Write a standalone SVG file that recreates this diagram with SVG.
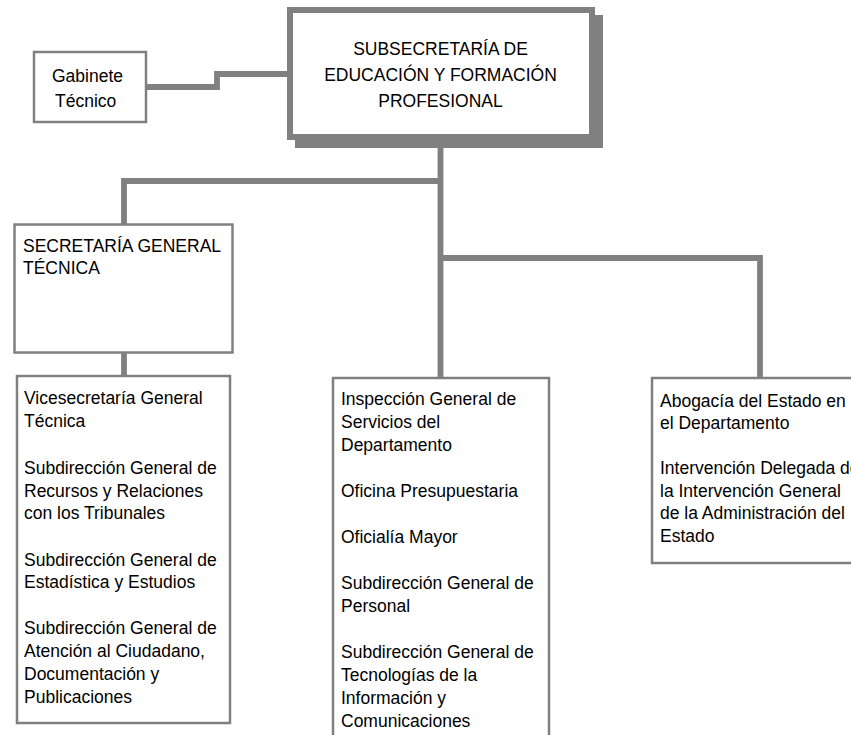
<svg xmlns="http://www.w3.org/2000/svg" width="851" height="735" viewBox="0 0 851 735">
<style>
text{font-family:"Liberation Sans",Arial,sans-serif;font-size:17.5px;fill:#000}
.box{fill:#fff;stroke:#808080;stroke-width:2.5}
.conn{fill:none;stroke:#808080;stroke-width:5.8;stroke-linejoin:miter}
.mid{text-anchor:middle}
</style>
<rect width="851" height="735" fill="#fff"/>
<g id="connectors">
<path class="conn" d="M146,87 H217 V74 H290"/>
<path class="conn" d="M440.5,140 V378"/>
<path class="conn" d="M124,226 V181 H440.5"/>
<path class="conn" d="M440.5,258 H760 V378"/>
<path class="conn" d="M124,352 V377"/>
</g>
<g id="subsecretaria">
<rect x="295" y="15" width="308" height="133" fill="#808080"/>
<rect x="290" y="10" width="302" height="127" fill="#fff" stroke="#808080" stroke-width="6"/>
<text class="mid" x="440.5" y="55">SUBSECRETARÍA DE</text>
<text class="mid" x="440.5" y="81">EDUCACIÓN Y FORMACIÓN</text>
<text class="mid" x="440.5" y="107">PROFESIONAL</text>
</g>
<g id="gabinete">
<rect class="box" x="34" y="52" width="112" height="70" stroke-width="2"/>
<text x="52" y="82">Gabinete</text>
<text x="55" y="107">Técnico</text>
</g>
<g id="sgt">
<rect class="box" x="14.5" y="224.5" width="218" height="128"/>
<text x="23" y="252">SECRETARÍA GENERAL</text>
<text x="23" y="274">TÉCNICA</text>
</g>
<g id="sgt-units">
<rect class="box" x="17" y="376" width="213" height="347"/>
<text x="24" y="404">Vicesecretaría General</text>
<text x="24" y="427">Técnica</text>
<text x="24" y="474">Subdirección General de</text>
<text x="24" y="497">Recursos y Relaciones</text>
<text x="24" y="519">con los Tribunales</text>
<text x="24" y="566">Subdirección General de</text>
<text x="24" y="588">Estadística y Estudios</text>
<text x="24" y="634">Subdirección General de</text>
<text x="24" y="657">Atención al Ciudadano,</text>
<text x="24" y="680">Documentación y</text>
<text x="24" y="703">Publicaciones</text>
</g>
<g id="middle-units">
<rect class="box" x="333" y="378" width="216" height="370"/>
<text x="341" y="405">Inspección General de</text>
<text x="341" y="428">Servicios del</text>
<text x="341" y="451">Departamento</text>
<text x="341" y="497">Oficina Presupuestaria</text>
<text x="341" y="543">Oficialía Mayor</text>
<text x="341" y="589">Subdirección General de</text>
<text x="341" y="612">Personal</text>
<text x="341" y="658">Subdirección General de</text>
<text x="341" y="681">Tecnologías de la</text>
<text x="341" y="704">Información y</text>
<text x="341" y="727">Comunicaciones</text>
</g>
<g id="right-units">
<rect class="box" x="652" y="378" width="230" height="185"/>
<text x="660" y="407">Abogacía del Estado en</text>
<text x="660" y="429">el Departamento</text>
<text x="660" y="474">Intervención Delegada de</text>
<text x="660" y="497">la Intervención General</text>
<text x="660" y="519">de la Administración del</text>
<text x="660" y="542">Estado</text>
</g>
</svg>
